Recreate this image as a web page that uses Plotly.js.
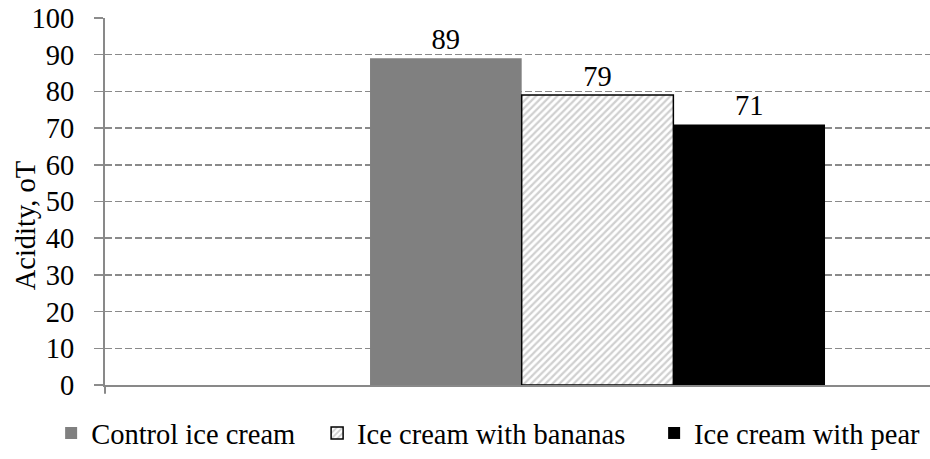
<!DOCTYPE html>
<html>
<head>
<meta charset="utf-8">
<script src="https://cdn.plot.ly/plotly-3.0.1.min.js"></script>
<style>html,body{margin:0;padding:0;background:#fff;}#chart{width:930px;height:459px;}</style>
</head>
<body>
<div id="chart"></div>
<script>
// ---- data ----
const categories = ['Acidity'];
const seriesNames = ['Control ice cream', 'Ice cream with bananas', 'Ice cream with pear'];
const controlValues = [89];
const bananaValues = [79];
const pearValues = [71];
const yTickValues = [0, 10, 20, 30, 40, 50, 60, 70, 80, 90, 100];
const yAxisTitle = 'Acidity, oT';

const FONT = '"Liberation Serif", "Times New Roman", Times, serif';
const FS = 28.5;

function barTrace(name, values, marker, legendId) {
  return {
    type: 'bar',
    name: name,
    x: categories,
    y: values,
    marker: marker,
    text: values.map(String),
    textposition: 'outside',
    textfont: {family: FONT, size: FS, color: '#000'},
    cliponaxis: false,
    legend: legendId,
    hoverinfo: 'skip'
  };
}

const data = [
  barTrace(seriesNames[0], controlValues, {color: '#808080', line: {width: 0}}, 'legend'),
  barTrace(seriesNames[1], bananaValues, {
    color: '#ffffff',
    pattern: {shape: '/', fgcolor: '#d0d0d0', bgcolor: '#ffffff', size: 5, solidity: 0.45},
    line: {color: '#000000', width: 1.5}
  }, 'legend2'),
  barTrace(seriesNames[2], pearValues, {color: '#000000', line: {width: 0}}, 'legend3')
];

function legendAt(x) {
  return {
    orientation: 'h', x: x, xanchor: 'left', y: -0.132, yanchor: 'middle',
    font: {family: FONT, size: FS, color: '#000'}, bgcolor: 'rgba(0,0,0,0)',
    itemclick: false, itemdoubleclick: false
  };
}

const layout = {
  width: 930, height: 459,
  margin: {l: 105, r: 0, t: 18, b: 68, pad: 0},
  paper_bgcolor: '#ffffff', plot_bgcolor: '#ffffff',
  font: {family: FONT, size: FS, color: '#000'},
  barmode: 'group', bargap: 0.4485, bargroupgap: 0,
  xaxis: {
    type: 'category', range: [-0.597, 0.403], showticklabels: false, ticks: '',
    showgrid: false, zeroline: false, showline: true, linecolor: '#898989', linewidth: 2,
    fixedrange: true
  },
  yaxis: {
    range: [0, 100], tickvals: yTickValues, ticktext: yTickValues.map(String),
    ticks: 'outside', ticklen: 9, tickcolor: '#8c8c8c', tickwidth: 1.5,
    showgrid: true, gridcolor: '#8a8a8a', gridwidth: 1.5, griddash: '7px,3px',
    zeroline: false, showline: true, linecolor: '#898989', linewidth: 2,
    tickfont: {family: FONT, size: FS, color: '#000'},
    ticklabelstandoff: 14,
    automargin: false, fixedrange: true
  },
  annotations: [{
    text: yAxisTitle, textangle: -90, showarrow: false,
    xref: 'paper', yref: 'paper', x: -0.097, y: 0.435, xanchor: 'center', yanchor: 'middle',
    font: {family: FONT, size: FS, color: '#000'}
  }],
  legend: legendAt(-0.0653),
  legend2: legendAt(0.2571),
  legend3: legendAt(0.6656),
  showlegend: true,
  shapes: [{type: 'line', xref: 'paper', yref: 'paper', x0: 0, x1: 0, y0: 0, y1: -0.024,
            line: {color: '#898989', width: 2}}]
};

Plotly.newPlot('chart', data, layout, {staticPlot: true, displayModeBar: false});
</script>
</body>
</html>
